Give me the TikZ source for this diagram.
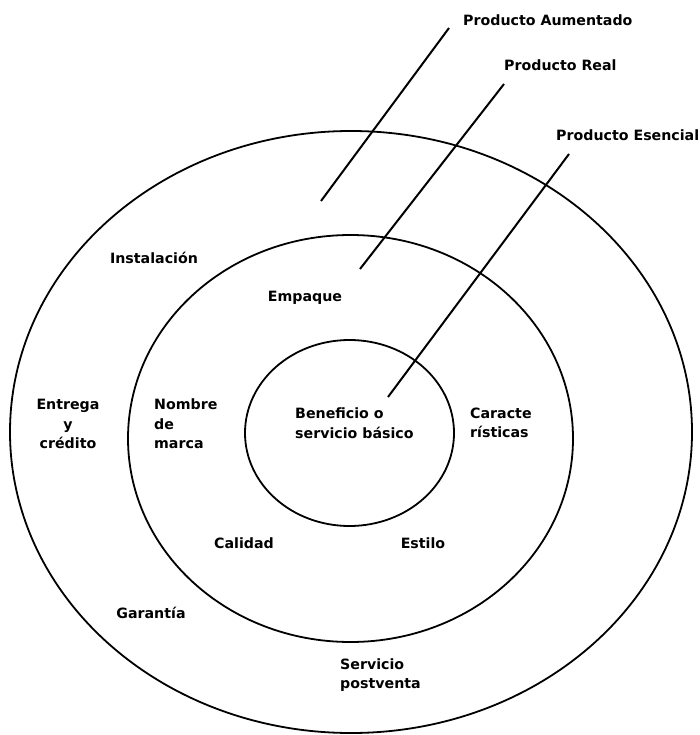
\documentclass[tikz,border=0pt]{standalone}
\usepackage{fontspec}
\setmainfont{DejaVu Sans}
\usepackage{tikz}
\usetikzlibrary{shapes.geometric, positioning}

\begin{document}
\begin{tikzpicture}[
    x=1pt, y=-1pt,
    ringline/.style={ellipse, draw, line width=1.8pt, inner sep=0pt},
    txt/.style={font=\bfseries\fontsize{14.2}{19.5}\selectfont, inner sep=0pt},
    pointer/.style={line width=2pt}
]
    \useasboundingbox (0,0) rectangle (700,735);

    % Rings of the product
    \node[ringline, minimum width=682pt, minimum height=602pt] (outer) at (351,432) {};
    \node[ringline, minimum width=445pt, minimum height=407pt] (middle) at (350.5,438.5) {};
    \node[ringline, minimum width=209pt, minimum height=186pt] (inner) at (349.5,433) {};

    % Level names
    \node[txt, anchor=west] (aum) at (463,20) {Producto Aumentado};
    \node[txt, anchor=west] (real) at (504,65) {Producto Real};
    \node[txt, anchor=west] (esen) at (556,135) {Producto Esencial};

    \coordinate (aumIn) at (321,201);
    \coordinate (aumOut) at (449,28);
    \coordinate (realIn) at (360,269);
    \coordinate (realOut) at (504,84);
    \coordinate (esenIn) at (388,397);
    \coordinate (esenOut) at (569,154);

    \draw[pointer] (aumIn) -- (aumOut);
    \draw[pointer] (realIn) -- (realOut);
    \draw[pointer] (esenIn) -- (esenOut);

    % Core
    \node[txt, anchor=west, align=left] (core) at (295,423) {Beneficio o\\servicio básico};

    % Actual product
    \node[txt] (empaque) at (305,298) {Empaque};
    \node[txt, anchor=west, align=left] (marca) at (154,424) {Nombre\\de\\marca};
    \node[txt, anchor=west, align=left] (caract) at (470,423) {Caracte\\rísticas};
    \node[txt] (calidad) at (244,543) {Calidad};
    \node[txt] (estilo) at (423,543) {Estilo};

    % Augmented product
    \node[txt] (instal) at (154,258) {Instalación};
    \node[txt, align=center] (entrega) at (68,424) {Entrega\\y\\crédito};
    \node[txt] (garantia) at (151,613) {Garantía};
    \node[txt, anchor=west, align=left] (servicio) at (340,675) {Servicio\\postventa};
\end{tikzpicture}
\end{document}
